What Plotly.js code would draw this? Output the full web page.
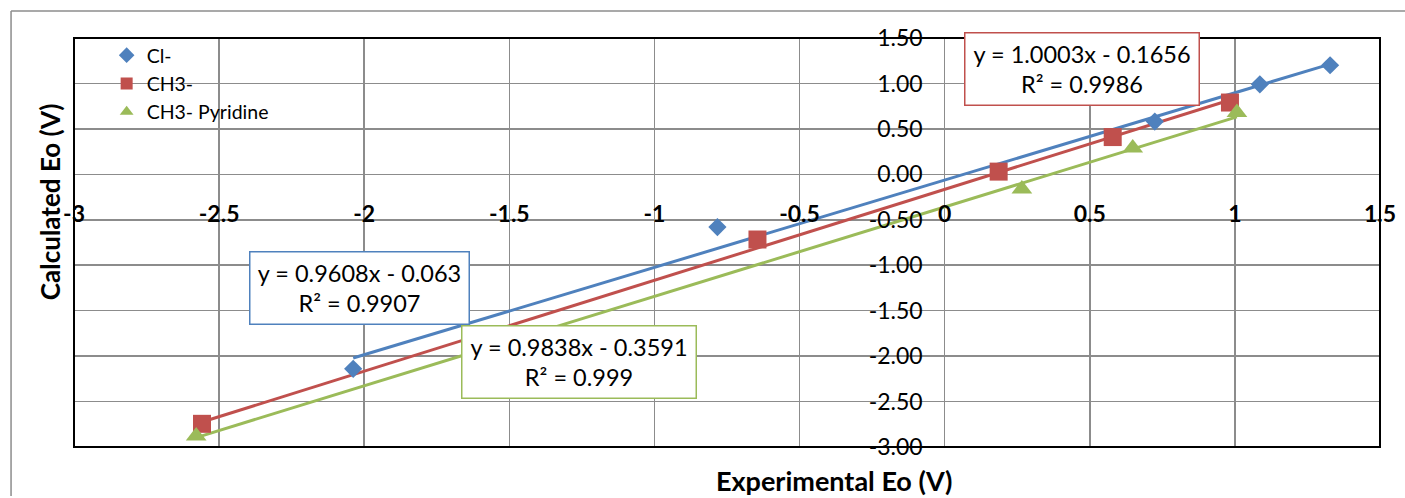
<!DOCTYPE html>
<html>
<head>
<meta charset="utf-8">
<script src="https://cdn.plot.ly/plotly-3.0.1.min.js"></script>
<style>html,body{margin:0;padding:0;background:#fff;}#chart{width:1405px;height:498px;}</style>
</head>
<body>
<div id="chart"></div>
<script>
// ---- data ----
const seriesNames = ["Cl-", "CH3-", "CH3- Pyridine"];
const clX = [-2.038, -0.783, 0.724, 1.086, 1.328];
const clY = [-2.14, -0.58, 0.58, 0.99, 1.20];
const ch3X = [-2.559, -0.645, 0.186, 0.579, 0.983];
const ch3Y = [-2.745, -0.717, 0.03, 0.41, 0.79];
const pyrX = [-2.579, 0.266, 0.648, 1.007];
const pyrY = [-2.88, -0.16, 0.29, 0.68];
// linear trendline coefficients printed on the chart
const trendSlopes = [0.9608, 1.0003, 0.9838];
const trendIntercepts = [-0.063, -0.1656, -0.3591];
const trendR2 = ["0.9907", "0.9986", "0.999"];
// tick labels
const xTickVals = [-3, -2.5, -2, -1.5, -1, -0.5, 0, 0.5, 1, 1.5];
const xTickText = ["-3", "-2.5", "-2", "-1.5", "-1", "-0.5", "0", "0.5", "1", "1.5"];
const yTickVals = [-3, -2.5, -2, -1.5, -1, -0.5, 0, 0.5, 1, 1.5];
const yTickText = ["-3.00", "-2.50", "-2.00", "-1.50", "-1.00", "-0.50", "0.00", "0.50", "1.00", "1.50"];

const colors = ["#4F81BD", "#C0504D", "#9BBB59"];
const symbols = ["diamond", "square", "triangle-up"];
const sizes = [14, 18, 18];
const FONT = "Lato, 'Open Sans', sans-serif";

const xs = [clX, ch3X, pyrX];
const ys = [clY, ch3Y, pyrY];

const traces = [];
// trendlines first (beneath markers)
for (let i = 0; i < 3; i++) {
  const x0 = Math.min(...xs[i]), x1 = Math.max(...xs[i]);
  traces.push({
    type: "scatter", mode: "lines", x: [x0, x1],
    y: [trendSlopes[i] * x0 + trendIntercepts[i], trendSlopes[i] * x1 + trendIntercepts[i]],
    line: {color: colors[i], width: 3}, showlegend: false, hoverinfo: "skip"
  });
}
for (let i = 0; i < 3; i++) {
  traces.push({
    type: "scatter", mode: "markers", name: seriesNames[i], x: xs[i], y: ys[i],
    marker: {color: colors[i], symbol: symbols[i], size: sizes[i]}
  });
}

function eqText(i) {
  const b = Math.abs(trendIntercepts[i]);
  return "y = " + trendSlopes[i] + "x - " + b + "<br>R² = " + trendR2[i];
}

const boxPos = [[-2.017, -1.256], [0.472, 1.158], [-1.26, -2.065]];
const boxW = [216, 231, 231];
const annotations = [];
for (let i = 0; i < 3; i++) {
  annotations.push({
    x: boxPos[i][0], y: boxPos[i][1], xref: "x", yref: "y",
    text: eqText(i), showarrow: false, xanchor: "center", yanchor: "middle",
    font: {family: FONT, size: 23.5, color: "#000"}, align: "center",
    bgcolor: "#fff", bordercolor: colors[i], borderwidth: 1.5, borderpad: 1,
    width: boxW[i], height: 69
  });
}
annotations.push({
  text: "Experimental Eo (V)", xref: "paper", yref: "paper", x: 0.582, y: -0.0807,
  xanchor: "center", yanchor: "middle", showarrow: false,
  font: {family: FONT, size: 27, weight: 700, color: "#000"}
});
annotations.push({
  text: "Calculated Eo (V)", xref: "paper", yref: "paper", x: -0.0184, y: 0.601,
  xanchor: "center", yanchor: "middle", showarrow: false, textangle: -90,
  font: {family: FONT, size: 26, weight: 700, color: "#000"}
});

const layout = {
  width: 1405, height: 498,
  margin: {l: 74, r: 25, t: 38, b: 51},
  paper_bgcolor: "#fff", plot_bgcolor: "#fff",
  font: {family: FONT, color: "#000"},
  showlegend: true,
  legend: {
    x: 0.025, y: 1.005, xanchor: "left", yanchor: "top",
    bgcolor: "rgba(0,0,0,0)", borderwidth: 0, itemsizing: "constant",
    font: {family: FONT, size: 19.5, color: "#000"}
  },
  xaxis: {
    range: [-3, 1.5], tickmode: "array", tickvals: xTickVals, ticktext: xTickText,
    showgrid: true, gridcolor: "#8c8c8c", gridwidth: 1.5, zeroline: false, showline: false,
    side: "top", anchor: "free", position: 0.5556, ticks: "", ticklabelstandoff: -7,
    tickfont: {family: FONT, size: 23, weight: 700, color: "#000"}, fixedrange: true
  },
  yaxis: {
    range: [-3, 1.5], tickmode: "array", tickvals: yTickVals, ticktext: yTickText,
    showgrid: true, gridcolor: "#8c8c8c", gridwidth: 1.5, zeroline: false, showline: false,
    side: "left", anchor: "free", position: 0.6667, ticks: "", ticklabelstandoff: 22,
    tickfont: {family: FONT, size: 23, color: "#000"}, fixedrange: true
  },
  shapes: [
    {type: "rect", xref: "paper", yref: "paper", x0: 0, x1: 1, y0: 0, y1: 1,
     line: {color: "#000", width: 2}, layer: "above"},
    {type: "line", xref: "paper", yref: "paper", x0: -0.0482, x1: -0.0482, y0: 1.066, y1: -0.12,
     line: {color: "#8c8c8c", width: 1.5}},
    {type: "line", xref: "paper", yref: "paper", x0: -0.0482, x1: 1.05, y0: 1.066, y1: 1.066,
     line: {color: "#8c8c8c", width: 1.5}}
  ],
  annotations: annotations
};

Plotly.newPlot("chart", traces, layout, {displayModeBar: false, staticPlot: true});
</script>
</body>
</html>
